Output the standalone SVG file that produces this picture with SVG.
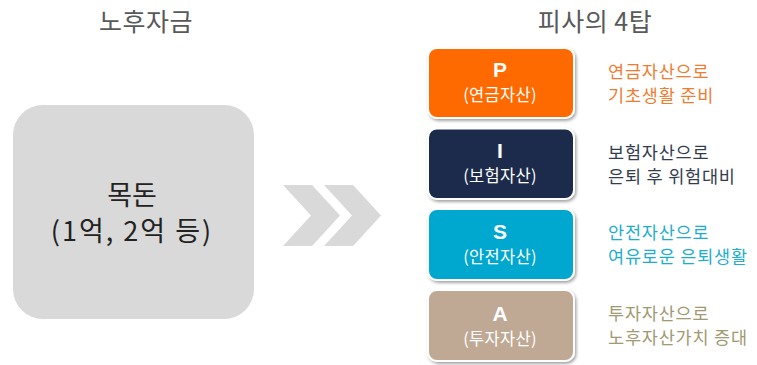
<svg xmlns="http://www.w3.org/2000/svg" width="757" height="365" viewBox="0 0 757 365">
<defs>
<filter id="sh" x="-10%" y="-10%" width="125%" height="130%">
<feDropShadow dx="1.5" dy="2" stdDeviation="1.5" flood-color="#000" flood-opacity="0.35"/>
</filter>
<style>
text{font-family:"Noto Sans CJK KR","Noto Sans",sans-serif}
.title{font-size:25px;fill:#595959;text-anchor:middle;letter-spacing:0.5px}
.big{font-size:27px;fill:#222;text-anchor:middle}
.tower{stroke:#fff;stroke-width:2;filter:url(#sh)}
.letter{font-family:"Liberation Sans","Noto Sans CJK KR",sans-serif;font-weight:bold;font-size:21px;fill:#fff;text-anchor:middle}
.sub{font-size:16.5px;fill:#fff;text-anchor:middle;letter-spacing:0.3px}
.desc{font-size:17.5px;letter-spacing:0.8px}
.chev{fill:#d9d9d9}
</style>
</defs>
<text class="title" x="146" y="31">노후자금</text>
<text class="title" x="595" y="31">피사의 4탑</text>
<g id="lump">
<rect x="13" y="105" width="241" height="214" rx="30" fill="#d9d9d9"/>
<text class="big" x="132" y="205">목돈</text>
<text class="big" x="132" y="241" style="letter-spacing:2px">(1억, 2억 등)</text>
</g>
<g id="connectors">
<polygon class="chev" points="283,185 312,185 340,215.5 312,246 283,246 311,215.5"/>
<polygon class="chev" points="324,185 353,185 381,215.5 353,246 324,246 352,215.5"/>
</g>
<g id="P">
<rect class="tower" x="428" y="48" width="146" height="70" rx="9" fill="#ff6a00"/>
<text class="letter" x="500" y="77">P</text>
<text class="sub" x="500" y="101">(연금자산)</text>
<text class="desc" x="608" y="77.5" fill="#ef7d30">연금자산으로</text>
<text class="desc" x="608" y="101.5" fill="#ef7d30">기초생활 준비</text>
</g>
<g id="I">
<rect class="tower" x="428" y="128.5" width="146" height="70.5" rx="9" fill="#1c2b4b"/>
<text class="letter" x="500" y="158">I</text>
<text class="sub" x="500" y="182">(보험자산)</text>
<text class="desc" x="608" y="158.5" fill="#333c4e">보험자산으로</text>
<text class="desc" x="608" y="182.5" fill="#333c4e">은퇴 후 위험대비</text>
</g>
<g id="S">
<rect class="tower" x="428" y="209" width="146" height="71" rx="9" fill="#00a7cf"/>
<text class="letter" x="500" y="239">S</text>
<text class="sub" x="500" y="263">(안전자산)</text>
<text class="desc" x="608" y="238.5" fill="#1eaecd">안전자산으로</text>
<text class="desc" x="608" y="262.5" fill="#1eaecd">여유로운 은퇴생활</text>
</g>
<g id="A">
<rect class="tower" x="428" y="290" width="146" height="71" rx="9" fill="#bfa994"/>
<text class="letter" x="500" y="321">A</text>
<text class="sub" x="500" y="345">(투자자산)</text>
<text class="desc" x="608" y="319.5" fill="#a09a72">투자자산으로</text>
<text class="desc" x="608" y="343.5" fill="#a09a72">노후자산가치 증대</text>
</g>
</svg>
